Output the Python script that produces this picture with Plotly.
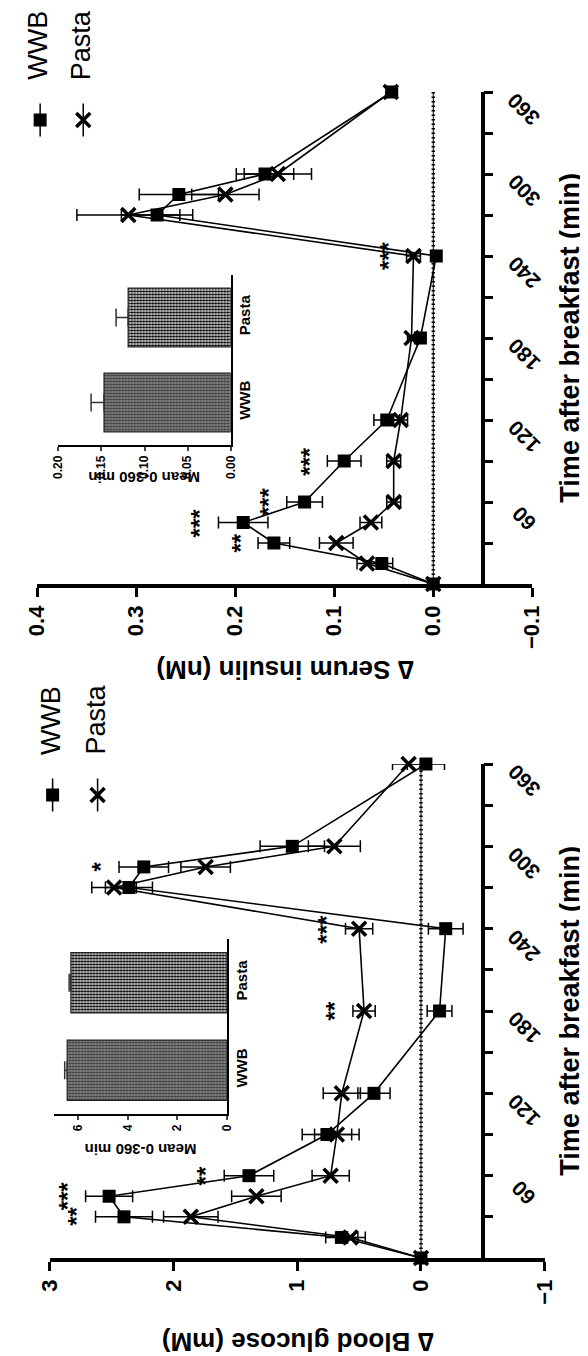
import plotly.graph_objects as go

W, H = 588, 1356
FONT = "Liberation Sans, Arial, Helvetica, sans-serif"

# ---------------- data ----------------
times = [0, 15, 30, 45, 60, 90, 120, 180, 240, 270, 285, 300, 360]

ins_wwb = [0.0, 0.052, 0.161, 0.192, 0.130, 0.090, 0.047, 0.013, -0.003, 0.279, 0.257, 0.170, 0.042]
ins_wwb_err = [0.0, 0.011, 0.016, 0.025, 0.018, 0.017, 0.013, 0.005, 0.004, 0.036, 0.040, 0.029, 0.005]
ins_pasta = [0.0, 0.067, 0.098, 0.063, 0.040, 0.040, 0.033, 0.022, 0.020, 0.308, 0.210, 0.157, 0.043]
ins_pasta_err = [0.0, 0.010, 0.017, 0.011, 0.007, 0.007, 0.007, 0.004, 0.007, 0.052, 0.034, 0.034, 0.005]

glu_wwb = [0.0, 0.64, 2.40, 2.52, 1.39, 0.76, 0.38, -0.15, -0.20, 2.36, 2.24, 1.04, -0.04]
glu_wwb_err = [0.0, 0.13, 0.23, 0.19, 0.20, 0.20, 0.13, 0.10, 0.14, 0.19, 0.20, 0.26, 0.15]
glu_pasta = [0.0, 0.57, 1.86, 1.33, 0.73, 0.68, 0.64, 0.46, 0.50, 2.48, 1.74, 0.70, 0.10]
glu_pasta_err = [0.0, 0.12, 0.22, 0.20, 0.15, 0.18, 0.15, 0.09, 0.11, 0.18, 0.20, 0.21, 0.13]

ins_star_times = [30, 45, 60, 90, 240]
ins_stars = ["**", "***", "***", "***", "***"]
glu_star_times = [30, 45, 60, 180, 240, 285]
glu_stars = ["**", "***", "**", "**", "***", "*"]

groups = ["WWB", "Pasta"]
ins_mean = [0.147, 0.119]
ins_mean_err = [0.015, 0.014]
glu_mean = [6.45, 6.30]
glu_mean_err = [0.10, 0.07]

time_ticks = list(range(30, 361, 30))
time_labels = [str(t) if t % 60 == 0 else "" for t in time_ticks]

ins_vticks = [0.4, 0.3, 0.2, 0.1, 0.0, -0.1]
glu_vticks = [3, 2, 1, 0, -1]
ins_inset_ticks = [0.0, 0.05, 0.10, 0.15, 0.20]
glu_inset_ticks = [0, 2, 4, 6]

# bar fill styles (WWB darker grey checker, Pasta black/white checker)
bar_styles = [
    dict(bg="#9a9a9a", fg="#3c3c3c"),
    dict(bg="#ffffff", fg="#000000"),
]

# ---------------- layout geometry (pixels) ----------------
panels = [
    dict(xa="x", ya="y", xi="x3", yi="y3", xl="x5", yl="y5",
         vals=(ins_wwb, ins_wwb_err, ins_pasta, ins_pasta_err),
         stars=(ins_star_times, ins_stars), vticks=ins_vticks, vfmt=".1f",
         vrange=[0.4, -0.1], xpix=(17, 534), ypix=(576, 84), taxis=482,
         title="∆ Serum insulin (nM)", title_y=662,
         mean=ins_mean, mean_err=ins_mean_err, irange=[0.2, 0], iticks=ins_inset_ticks, ifmt=".2f",
         ixpix=(39, 219), iypix=(437, 267), ititle_y=470,
         leg_x=(20, 65), leg_y=112),
    dict(xa="x2", ya="y2", xi="x4", yi="y4", xl="x6", yl="y6",
         vals=(glu_wwb, glu_wwb_err, glu_pasta, glu_pasta_err),
         stars=(glu_star_times, glu_stars), vticks=glu_vticks, vfmt="d",
         vrange=[3, -1], xpix=(30, 547), ypix=(1250, 756), taxis=482,
         title="∆ Blood glucose (mM)", title_y=1334,
         mean=glu_mean, mean_err=glu_mean_err, irange=[7, 0], iticks=glu_inset_ticks, ifmt="d",
         ixpix=(34, 215), iypix=(1106, 931), ititle_y=1142,
         leg_x=(33, 80), leg_y=787),
]


def px(x):
    return x / W


def py(y):
    return 1 - y / H


def axname(a):
    return a.replace("x", "xaxis").replace("y", "yaxis")


fig = go.Figure()
layout = dict(width=W, height=H, margin=dict(l=0, r=0, t=0, b=0), autosize=False,
              paper_bgcolor="white", plot_bgcolor="white", showlegend=False,
              font=dict(family=FONT, color="black"))
annotations = []

for p in panels:
    wwb, wwb_e, pas, pas_e = p["vals"]
    # zero reference line (dotted)
    fig.add_trace(go.Scatter(x=[0, 0], y=[0, 360], mode="lines", xaxis=p["xa"], yaxis=p["ya"],
                             line=dict(color="black", width=1), hoverinfo="skip", cliponaxis=False))
    fig.add_trace(go.Scatter(x=[0, 0], y=[0, 360], mode="lines", xaxis=p["xa"], yaxis=p["ya"],
                             line=dict(color="black", width=3.5, dash="1.5px,3px"), hoverinfo="skip",
                             cliponaxis=False))
    # Pasta
    fig.add_trace(go.Scatter(x=pas, y=times, mode="lines+markers", xaxis=p["xa"], yaxis=p["ya"],
                             line=dict(color="black", width=1.6),
                             marker=dict(symbol="x-thin", size=14, line=dict(width=3.5, color="black")),
                             error_x=dict(type="data", array=pas_e, visible=True, color="black",
                                          thickness=1.5, width=6),
                             cliponaxis=False, name="Pasta"))
    # WWB
    fig.add_trace(go.Scatter(x=wwb, y=times, mode="lines+markers", xaxis=p["xa"], yaxis=p["ya"],
                             line=dict(color="black", width=1.6),
                             marker=dict(symbol="square", size=13, color="black"),
                             error_x=dict(type="data", array=wwb_e, visible=True, color="black",
                                          thickness=1.5, width=6),
                             cliponaxis=False, name="WWB"))

    # main axes
    layout[axname(p["xa"])] = dict(
        domain=[px(p["xpix"][0]), px(p["xpix"][1])], range=p["vrange"], anchor=p["ya"],
        side="bottom", showline=True, linewidth=3.5, linecolor="black", ticks="outside",
        ticklen=9, tickwidth=3, tickcolor="black", tickvals=p["vticks"], tickformat=p["vfmt"],
        tickangle=-90, tickfont=dict(size=22, family=FONT, weight="bold"),
        showgrid=False, zeroline=False, fixedrange=True)
    layout[axname(p["ya"])] = dict(
        domain=[py(p["ypix"][0]), py(p["ypix"][1])], range=[0, 360], anchor="free",
        position=px(p["taxis"]), side="right", showline=True, linewidth=3.5, linecolor="black",
        ticks="outside", ticklen=9, tickwidth=3, tickcolor="black", tickvals=time_ticks,
        showticklabels=False, showgrid=False, zeroline=False, fixedrange=True)

    # time tick labels (angled)
    for t, lab in zip(time_ticks, time_labels):
        if lab:
            annotations.append(dict(text=lab, xref="paper", x=px(p["taxis"] + 43), yref=p["ya"], y=t,
                                    yshift=-17, showarrow=False, textangle=-135,
                                    xanchor="center", yanchor="middle",
                                    font=dict(size=21, family=FONT, weight="bold")))
    # axis titles
    annotations.append(dict(text="Time after breakfast (min)", xref="paper", x=px(573), yref=p["ya"],
                            y=180, showarrow=False, textangle=-90, xanchor="center", yanchor="middle",
                            font=dict(size=27, family=FONT, weight="bold")))
    annotations.append(dict(text=p["title"], xref="paper", x=px(sum(p["xpix"]) / 2), yref="paper",
                            y=py(p["title_y"]), showarrow=False, textangle=180,
                            xanchor="center", yanchor="middle",
                            font=dict(size=26, family=FONT, weight="bold")))
    # significance stars
    st_t, st_s = p["stars"]
    for t, s in zip(st_t, st_s):
        i = times.index(t)
        ref = max(wwb[i] + wwb_e[i], pas[i] + pas_e[i])
        annotations.append(dict(text=s, xref=p["xa"], x=ref, xshift=-3, yref=p["ya"], y=t,
                                showarrow=False, textangle=-90, xanchor="right", yanchor="middle",
                                font=dict(size=24, family=FONT, weight="bold")))

    # inset bar chart (one trace per group)
    for g, m, e, stl in zip(groups, p["mean"], p["mean_err"], bar_styles):
        fig.add_trace(go.Bar(x=[m], y=[g], orientation="h", xaxis=p["xi"], yaxis=p["yi"],
                             width=0.69,
                             marker=dict(color=stl["bg"], line=dict(color="#222", width=1.2),
                                         pattern=dict(shape=".", fgcolor=stl["fg"], bgcolor=stl["bg"],
                                                      size=3, solidity=0.6, fillmode="replace")),
                             error_x=dict(type="data", array=[e], arrayminus=[0], symmetric=False,
                                          color="#333", thickness=1.5, width=9),
                             hoverinfo="skip"))
    layout[axname(p["xi"])] = dict(
        domain=[px(p["ixpix"][0]), px(p["ixpix"][1])], range=p["irange"], anchor=p["yi"],
        side="bottom", showline=True, linewidth=1.5, linecolor="black", ticks="outside",
        ticklen=4, tickwidth=1.5, tickvals=p["iticks"], tickformat=p["ifmt"], tickangle=-90,
        tickfont=dict(size=12, family=FONT, weight="bold"), showgrid=False, zeroline=False,
        fixedrange=True)
    layout[axname(p["yi"])] = dict(
        domain=[py(p["iypix"][0]), py(p["iypix"][1])], type="category", categoryarray=groups,
        categoryorder="array", range=[-0.5, 1.5], anchor=p["xi"], side="right", showline=True,
        linewidth=1.5, linecolor="black", ticks="", tickangle=-90,
        tickfont=dict(size=15, family=FONT, weight="bold"), showgrid=False, zeroline=False,
        fixedrange=True)
    annotations.append(dict(text="Mean 0-360 min", xref="paper", x=px(sum(p["ixpix"]) / 2),
                            yref="paper", y=py(p["ititle_y"]), showarrow=False, textangle=180,
                            xanchor="center", yanchor="middle",
                            font=dict(size=15, family=FONT, weight="bold")))

    # custom legend (rotated)
    lx0, lx1 = p["leg_x"]
    unit = lx1 - lx0
    layout[axname(p["xl"])] = dict(domain=[0, px(110)], range=[-lx0 / unit, (110 - lx0) / unit],
                                   visible=False, fixedrange=True, anchor=p["yl"])
    layout[axname(p["yl"])] = dict(domain=[py(p["leg_y"] + 33), py(p["leg_y"] - 33)], range=[-1, 1],
                                   visible=False, fixedrange=True, anchor=p["xl"])
    for i, (g, sym) in enumerate(zip(groups, ["square", "x-thin"])):
        fig.add_trace(go.Scatter(x=[i, i], y=[-0.5, 0.5], mode="lines", xaxis=p["xl"], yaxis=p["yl"],
                                 line=dict(color="black", width=1.5), hoverinfo="skip"))
        mk = dict(symbol=sym, size=13 if sym == "square" else 14, color="black",
                  line=dict(width=3.5 if sym != "square" else 0, color="black"))
        fig.add_trace(go.Scatter(x=[i], y=[0], mode="markers", xaxis=p["xl"], yaxis=p["yl"],
                                 marker=mk, hoverinfo="skip", cliponaxis=False))
        annotations.append(dict(text=g, xref=p["xl"], x=i, xshift=-2, yref=p["yl"], y=0, yshift=38,
                                showarrow=False, textangle=-90, xanchor="center", yanchor="bottom",
                                font=dict(size=27, family=FONT)))

layout["annotations"] = annotations
layout["bargap"] = 0.3
fig.update_layout(**layout)
fig.write_html("out.html")
